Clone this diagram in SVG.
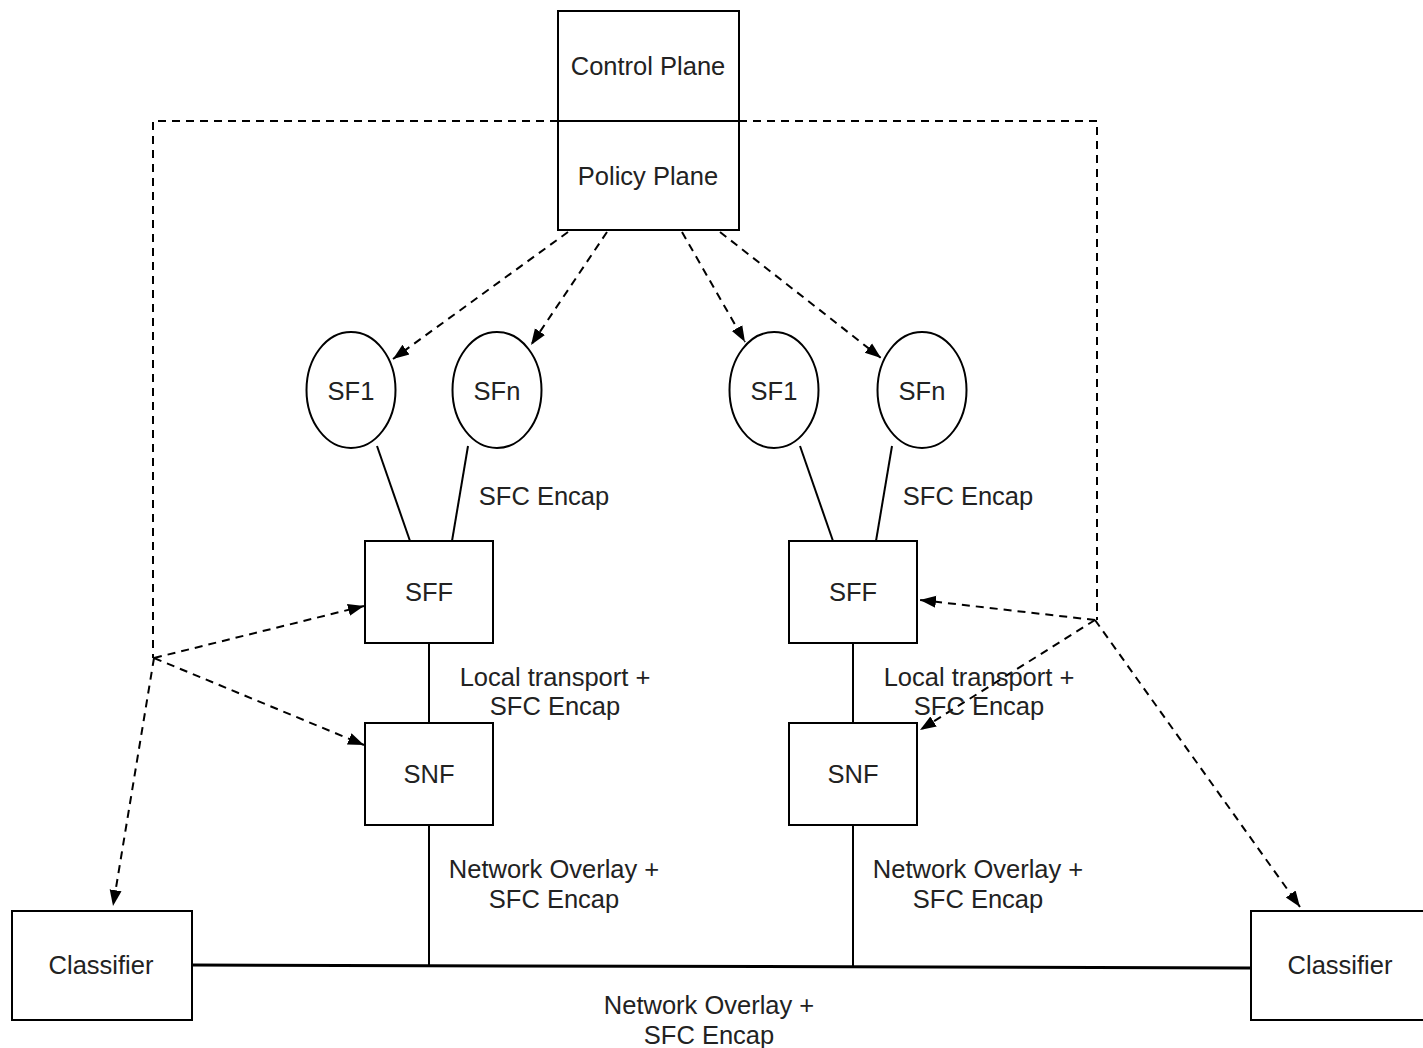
<svg xmlns="http://www.w3.org/2000/svg" width="1423" height="1048" viewBox="0 0 1423 1048">
<style>
.box{fill:#fff;stroke:#000;stroke-width:2}
.t{font-family:"Liberation Sans",Arial,sans-serif;font-size:25.5px;fill:#222;text-anchor:middle;dominant-baseline:central}
.d{fill:none;stroke:#000;stroke-width:2;stroke-dasharray:8 6}
.da{fill:none;stroke:#000;stroke-width:2;stroke-dasharray:8 6;marker-end:url(#ah)}
.s{fill:none;stroke:#000;stroke-width:2}
</style>
<defs>
<marker id="ah" markerWidth="18" markerHeight="14" refX="16" refY="7" orient="auto" markerUnits="userSpaceOnUse">
<path d="M0,1 L16,7 L0,13 Z" fill="#000"/>
</marker>
</defs>
<rect width="1423" height="1048" fill="#fff"/>
<g id="connectors">
<path class="d" d="M558,121 H153 V658"/>
<path class="d" d="M739,121 H1097 V620"/>
<path class="da" d="M568,232 L393,359"/>
<path class="da" d="M607,232 L531,345"/>
<path class="da" d="M682,232 L745,342"/>
<path class="da" d="M720,232 L881,358"/>
<path class="da" d="M154,658 L364,606"/>
<path class="da" d="M154,658 L364,745"/>
<path class="da" d="M154,658 L113,906"/>
<path class="da" d="M1095,620 L920,600"/>
<path class="da" d="M1095,620 L920,730"/>
<path class="da" d="M1095,620 L1300,907"/>
<path class="s" d="M377,446 L410,541"/>
<path class="s" d="M468,446 L452,541"/>
<path class="s" d="M800,446 L833,541"/>
<path class="s" d="M892,446 L876,541"/>
<path class="s" d="M429,643 V723"/>
<path class="s" d="M853,643 V723"/>
<path class="s" d="M429,825 V966"/>
<path class="s" d="M853,825 V967"/>
<path d="M192,965 L1251,968" fill="none" stroke="#000" stroke-width="3"/>
</g>
<g id="control-policy">
<rect class="box" x="558" y="11" width="181" height="219"/>
<line x1="558" y1="121" x2="739" y2="121" stroke="#000" stroke-width="2"/>
<text class="t" x="648" y="66">Control Plane</text>
<text class="t" x="648" y="176">Policy Plane</text>
</g>
<g id="sf1-left"><ellipse class="box" cx="351" cy="390" rx="44.5" ry="58"/><text class="t" x="351" y="391">SF1</text></g>
<g id="sfn-left"><ellipse class="box" cx="497" cy="390" rx="44.5" ry="58"/><text class="t" x="497" y="391">SFn</text></g>
<g id="sf1-right"><ellipse class="box" cx="774" cy="390" rx="44.5" ry="58"/><text class="t" x="774" y="391">SF1</text></g>
<g id="sfn-right"><ellipse class="box" cx="922" cy="390" rx="44.5" ry="58"/><text class="t" x="922" y="391">SFn</text></g>
<g id="sff-left"><rect class="box" x="365" y="541" width="128" height="102"/><text class="t" x="429" y="592">SFF</text></g>
<g id="snf-left"><rect class="box" x="365" y="723" width="128" height="102"/><text class="t" x="429" y="774">SNF</text></g>
<g id="sff-right"><rect class="box" x="789" y="541" width="128" height="102"/><text class="t" x="853" y="592">SFF</text></g>
<g id="snf-right"><rect class="box" x="789" y="723" width="128" height="102"/><text class="t" x="853" y="774">SNF</text></g>
<g id="classifier-left"><rect class="box" x="12" y="911" width="180" height="109"/><text class="t" x="101" y="965">Classifier</text></g>
<g id="classifier-right"><rect class="box" x="1251" y="911" width="180" height="109"/><text class="t" x="1340" y="965">Classifier</text></g>
<g id="labels">
<text class="t" x="544" y="496">SFC Encap</text>
<text class="t" x="968" y="496">SFC Encap</text>
<text class="t" x="555" y="677">Local transport +</text>
<text class="t" x="555" y="706">SFC Encap</text>
<text class="t" x="979" y="677">Local transport +</text>
<text class="t" x="979" y="706">SFC Encap</text>
<text class="t" x="554" y="869">Network Overlay +</text>
<text class="t" x="554" y="899">SFC Encap</text>
<text class="t" x="978" y="869">Network Overlay +</text>
<text class="t" x="978" y="899">SFC Encap</text>
<text class="t" x="709" y="1005">Network Overlay +</text>
<text class="t" x="709" y="1035">SFC Encap</text>
</g>
</svg>
